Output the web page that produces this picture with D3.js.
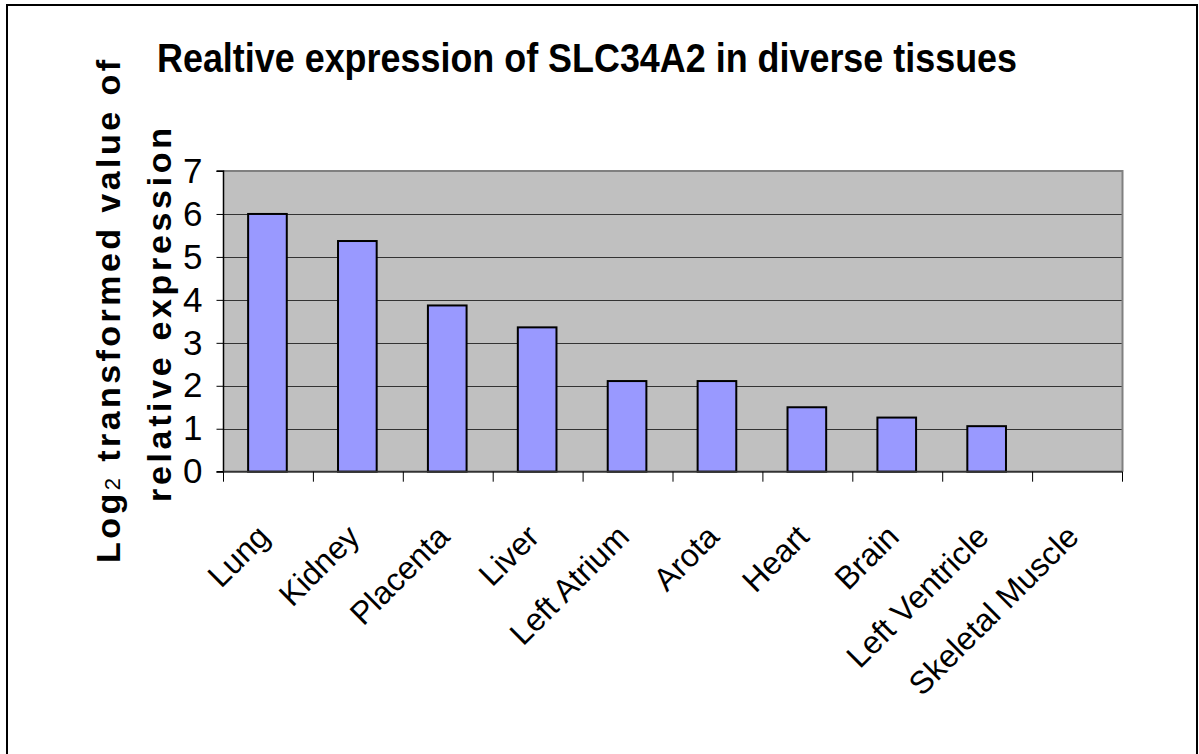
<!DOCTYPE html>
<html>
<head>
<meta charset="utf-8">
<script src="https://cdn.jsdelivr.net/npm/d3@7"></script>
<style>
  html, body { margin: 0; padding: 0; background: #fff; }
  svg { display: block; }
  text { font-family: "Liberation Sans", Arial, sans-serif; }
</style>
</head>
<body>
<svg id="chart" width="1199" height="754"></svg>
<script>
const categories = ["Lung", "Kidney", "Placenta", "Liver", "Left Atrium", "Arota", "Heart", "Brain", "Left Ventricle", "Skeletal Muscle"];
const values = [6.0, 5.37, 3.87, 3.36, 2.11, 2.11, 1.5, 1.26, 1.06, 0];
const yTicks = [0, 1, 2, 3, 4, 5, 6, 7];
const titleText = "Realtive expression of SLC34A2 in diverse tissues";
const yTitle1 = ["Log", "2", " transformed value of"];
const yTitle2 = "relative expression";

const svg = d3.select("#chart");
const plot = { left: 223.5, right: 1122.5, top: 171, bottom: 471.7 };

// outer frame
svg.append("rect").attr("x", 7).attr("y", 5).attr("width", 1190).attr("height", 760)
  .attr("fill", "#fff").attr("stroke", "#000").attr("stroke-width", 2);

const x = d3.scaleBand().domain(categories).range([plot.left, plot.right]).paddingInner(0).paddingOuter(0);
const y = d3.scaleLinear().domain([0, 7]).range([plot.bottom, plot.top]);

// plot background
svg.append("rect").attr("x", plot.left).attr("y", plot.top)
  .attr("width", plot.right - plot.left).attr("height", plot.bottom - plot.top)
  .attr("fill", "#c0c0c0");

// gridlines
svg.append("g").selectAll("line").data(yTicks.filter(d => d > 0 && d < 7)).join("line")
  .attr("x1", plot.left).attr("x2", plot.right)
  .attr("y1", d => Math.round(y(d)) + 0.5).attr("y2", d => Math.round(y(d)) + 0.5)
  .attr("stroke", "#333").attr("stroke-width", 1);

// plot border top/right
svg.append("path")
  .attr("d", `M${plot.left},${plot.top} H${plot.right} V${plot.bottom}`)
  .attr("fill", "none").attr("stroke", "#808080").attr("stroke-width", 2);

// bars
const bw = x.bandwidth() * 0.43;
svg.append("g").selectAll("rect").data(categories.map((c, i) => ({ c, v: values[i] })).filter(d => d.v > 0)).join("rect")
  .attr("x", d => x(d.c) + x.bandwidth() / 2 - bw / 2 - 1)
  .attr("y", d => y(d.v))
  .attr("width", bw)
  .attr("height", d => y(0) - y(d.v))
  .attr("fill", "#9999ff").attr("stroke", "#000").attr("stroke-width", 2);

// y axis
const yAxis = d3.axisLeft(y).tickValues(yTicks).tickSize(7).tickPadding(14).tickFormat(d3.format("d"));
const gy = svg.append("g").attr("transform", `translate(${plot.left},0)`).call(yAxis);
gy.select(".domain").attr("stroke", "#000").attr("stroke-width", 1.5).attr("d", `M-7,${plot.bottom}H0V${plot.top}H-7`);
gy.selectAll(".tick line").attr("stroke", "#000");
gy.selectAll(".tick text").attr("font-size", 35).attr("fill", "#000")
  .attr("font-family", "'Liberation Sans', Arial, sans-serif");

// x axis
const gx = svg.append("g").attr("transform", `translate(0,${plot.bottom})`);
gx.append("line").attr("x1", plot.left).attr("x2", plot.right).attr("y1", 0).attr("y2", 0)
  .attr("stroke", "#333").attr("stroke-width", 2);
const boundaries = categories.map(c => x(c)).concat([plot.right]);
gx.selectAll("line.tk").data(boundaries).join("line").attr("class", "tk")
  .attr("x1", d => d).attr("x2", d => d).attr("y1", 0).attr("y2", 10)
  .attr("stroke", "#000").attr("stroke-width", 1);
gx.selectAll("text").data(categories).join("text")
  .attr("transform", d => `translate(${x(d) + x.bandwidth() / 2 + 3},${67}) rotate(-45)`)
  .attr("text-anchor", "end")
  .attr("font-size", 32)
  .attr("fill", "#000")
  .text(d => d);

// title
svg.append("text").attr("x", 587).attr("y", 71.5).attr("text-anchor", "middle")
  .attr("font-size", 40).attr("font-weight", "bold")
  .attr("textLength", 860).attr("lengthAdjust", "spacingAndGlyphs")
  .text(titleText);

// y axis title
const t1 = svg.append("text").attr("transform", "translate(120,311.5) rotate(-90)")
  .attr("text-anchor", "middle").attr("font-size", 34).attr("font-weight", "bold")
  .attr("textLength", 503).attr("lengthAdjust", "spacing");
t1.append("tspan").text(yTitle1[0]);
t1.append("tspan").attr("font-size", 22).attr("font-weight", "normal").text(yTitle1[1]);
t1.append("tspan").text(yTitle1[2]);

svg.append("text").attr("transform", "translate(171,315) rotate(-90)")
  .attr("text-anchor", "middle").attr("font-size", 34).attr("font-weight", "bold")
  .attr("textLength", 374).attr("lengthAdjust", "spacing")
  .text(yTitle2);
</script>
</body>
</html>
